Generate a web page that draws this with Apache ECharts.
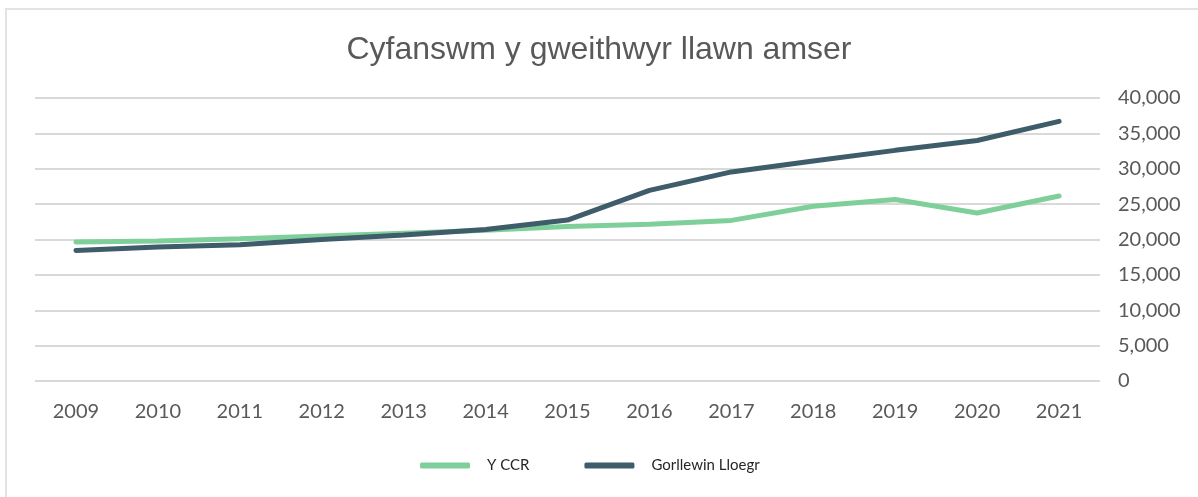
<!DOCTYPE html>
<html>
<head>
<meta charset="utf-8">
<script src="https://cdn.jsdelivr.net/npm/echarts@6/dist/echarts.min.js"></script>
<style>
    html, body { margin: 0; padding: 0; background: #fff; overflow: hidden; }
    #frame { position: absolute; left: 5px; top: 8px; width: 1300px; height: 600px;
             border-top: 2px solid #e3e3e3; border-left: 2px solid #e3e3e3; }
    #chart { position: absolute; left: 0; top: 0; width: 1198px; height: 497px; }
</style>
</head>
<body>
<div id="frame"></div>
<div id="chart"></div>
<script>
    // blynyddoedd
    var years = ['2009', '2010', '2011', '2012', '2013', '2014', '2015', '2016', '2017', '2018', '2019', '2020', '2021'];
    // Y CCR
    var ccrValues = [19650, 19800, 20100, 20500, 20900, 21300, 21850, 22150, 22700, 24700, 25650, 23750, 26150];
    // Gorllewin Lloegr
    var westValues = [18450, 18950, 19250, 20000, 20650, 21400, 22750, 26950, 29550, 31100, 32600, 34000, 36700];

    var textColor = '#595959';
    var chart = echarts.init(document.getElementById('chart'));
    chart.setOption({
        animation: false,
        title: {
            text: 'Cyfanswm y gweithwyr llawn amser',
            left: 'center',
            top: 29,
            textStyle: {
                fontFamily: 'Liberation Sans',
                fontWeight: 'normal',
                fontSize: 32,
                color: textColor
            }
        },
        legend: {
            bottom: 19,
            left: 415,
            itemWidth: 50,
            itemHeight: 6,
            itemGap: 55,
            icon: 'roundRect',
            textStyle: {
                fontFamily: 'Lato',
                fontSize: 15,
                color: '#262626',
                padding: [0, 0, 0, 12]
            },
            data: ['Y CCR', 'Gorllewin Lloegr']
        },
        grid: {
            left: 35,
            right: 98,
            top: 98,
            bottom: 116
        },
        xAxis: {
            type: 'category',
            boundaryGap: true,
            data: years,
            axisLine: { show: false },
            axisTick: { show: false },
            axisLabel: {
                margin: 21,
                fontFamily: 'Lato',
                fontSize: 20,
                color: textColor
            }
        },
        yAxis: {
            type: 'value',
            position: 'right',
            min: 0,
            max: 40000,
            interval: 5000,
            axisLine: { show: false },
            axisTick: { show: false },
            splitLine: { lineStyle: { color: '#d9d9d9', width: 2 } },
            axisLabel: {
                margin: 18,
                align: 'left',
                fontFamily: 'Lato',
                fontSize: 20,
                color: textColor,
                formatter: function (v) { return v.toLocaleString('en-US'); }
            }
        },
        series: [
            {
                name: 'Y CCR',
                type: 'line',
                data: ccrValues,
                symbol: 'none',
                lineStyle: { color: '#7fcf9b', width: 5, cap: 'round' },
                itemStyle: { color: '#7fcf9b' }
            },
            {
                name: 'Gorllewin Lloegr',
                type: 'line',
                data: westValues,
                symbol: 'none',
                lineStyle: { color: '#3e5c69', width: 5, cap: 'round' },
                itemStyle: { color: '#3e5c69' }
            }
        ]
    });
</script>
</body>
</html>
